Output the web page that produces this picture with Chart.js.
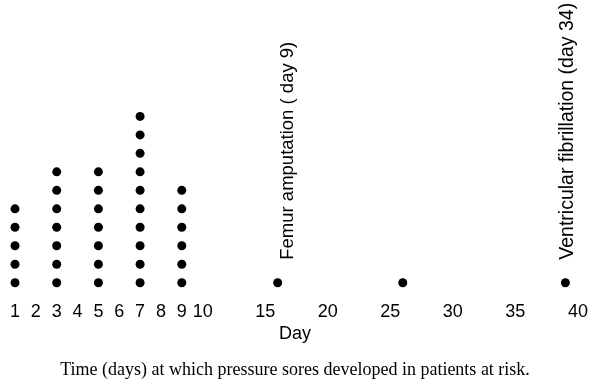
<!DOCTYPE html>
<html>
<head>
<meta charset="utf-8">
<script src="https://cdn.jsdelivr.net/npm/chart.js@4/dist/chart.umd.min.js"></script>
<style>
    body { margin: 0; background: #fff; }
</style>
</head>
<body>
<canvas id="soreChart" width="590" height="385"></canvas>
<script>
// 褥瘡が出来た日と、その日の患者数
const soreDays = [1, 3, 5, 7, 9, 16, 26, 39];
const soreCounts = [5, 7, 7, 10, 6, 1, 1, 1];

// 横軸の目盛り
const tickDays = [1, 2, 3, 4, 5, 6, 7, 8, 9, 10, 15, 20, 25, 30, 35, 40];

// 点の上に書くメモ
const noteDays = [16, 39];
const noteTexts = ['Femur amputation ( day 9)', 'Ventricular fibrillation (day 34)'];

const caption = 'Time (days) at which pressure sores developed in patients at risk.';

// 10日より後は目盛りを詰める
const BREAK_DAY = 10;
const SQUEEZE = 0.6;
function dayToPos(d) {
    return d <= BREAK_DAY ? d : BREAK_DAY + (d - BREAK_DAY) * SQUEEZE;
}

// 患者一人につき点一つ、縦に積む
const points = [];
for (let i = 0; i < soreDays.length; i++) {
    for (let k = 1; k <= soreCounts[i]; k++) {
        points.push({ x: dayToPos(soreDays[i]), y: k });
    }
}

const tickFont = { family: "'Liberation Sans Narrow', 'Liberation Sans', sans-serif", size: 18 };
const titleFont = { family: "'Liberation Sans', sans-serif", size: 18 };

// 縦書きのメモを描く
const notePlugin = {
    id: 'notes',
    afterDatasetsDraw(chart) {
        const ctx = chart.ctx;
        const xScale = chart.scales.x;
        const yScale = chart.scales.y;
        ctx.save();
        ctx.fillStyle = '#000';
        ctx.textAlign = 'left';
        ctx.textBaseline = 'middle';
        for (let i = 0; i < noteDays.length; i++) {
            const x = xScale.getPixelForValue(dayToPos(noteDays[i]));
            const y = yScale.getPixelForValue(1);
            ctx.save();
            ctx.font = (i === 0 ? 18.5 : 19.5) + "px 'Liberation Sans', sans-serif";
            ctx.translate(x + (i === 0 ? 10 : 2), y - 23);
            ctx.rotate(-Math.PI / 2);
            ctx.fillText(noteTexts[i], 0, 0);
            ctx.restore();
        }
        ctx.restore();
    }
};

const ctx = document.getElementById('soreChart').getContext('2d');
const soreChart = new Chart(ctx, {
    type: 'scatter',
    data: {
        datasets: [{
            data: points,
            pointRadius: 4.5,
            pointHoverRadius: 4.5,
            backgroundColor: '#000',
            borderColor: '#000',
            borderWidth: 0
        }]
    },
    options: {
        responsive: false,
        animation: false,
        layout: { padding: 0, autoPadding: false },
        plugins: {
            legend: { display: false },
            tooltip: { enabled: false },
            title: {
                display: true,
                position: 'bottom',
                text: caption,
                color: '#000',
                font: { family: "'Liberation Serif', serif", size: 18, weight: 'normal' },
                padding: { top: 15, bottom: 4 }
            }
        },
        scales: {
            x: {
                type: 'linear',
                min: 0.28,
                max: 28.58,
                grid: { display: false, drawTicks: false, tickLength: 0 },
                border: { display: false },
                afterBuildTicks(scale) {
                    scale.ticks = tickDays.map(d => ({ value: dayToPos(d) }));
                },
                ticks: {
                    autoSkip: false,
                    maxRotation: 0,
                    color: '#000',
                    font: tickFont,
                    padding: 0,
                    callback: (value, index) => tickDays[index]
                },
                title: {
                    display: true,
                    text: 'Day',
                    color: '#000',
                    font: titleFont,
                    padding: 0
                }
            },
            y: {
                display: false,
                min: 0,
                max: 16.3
            }
        }
    },
    plugins: [notePlugin]
});
</script>
</body>
</html>
